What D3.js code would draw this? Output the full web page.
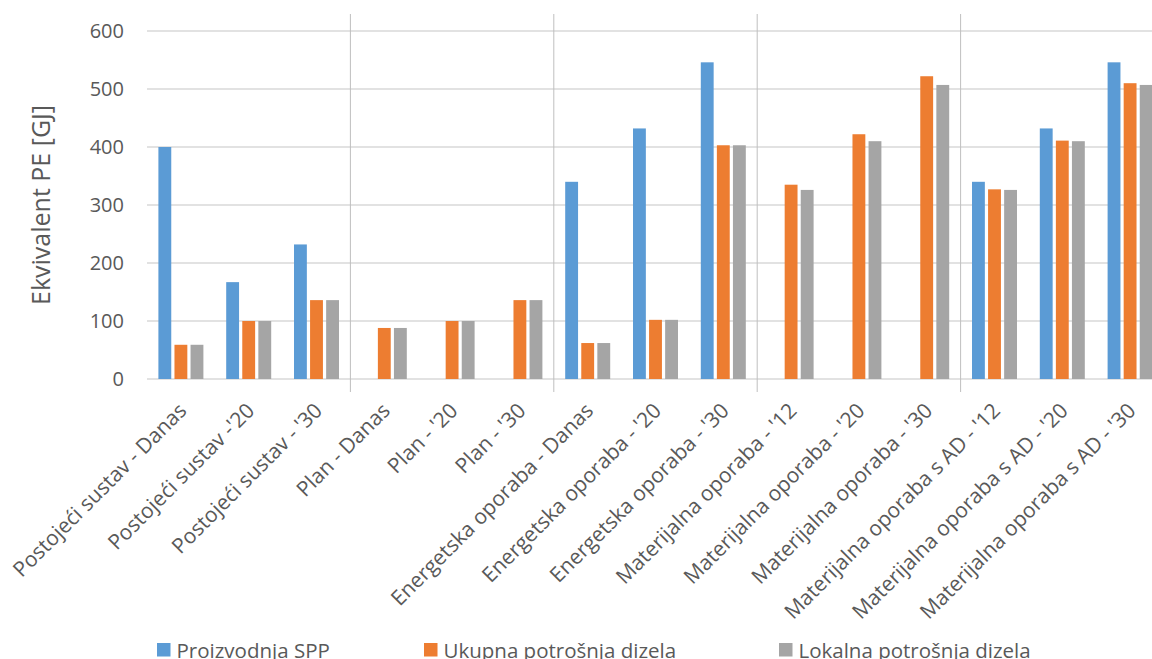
<!DOCTYPE html>
<html>
<head>
<meta charset="utf-8">
<script src="https://d3js.org/d3.v7.min.js"></script>
<style>
  body { margin: 0; background: #fff; }
  text { font-family: "Open Sans", "Noto Sans", sans-serif; fill: #595959; }
</style>
</head>
<body>
<script>
  var categories = [
    "Postojeći sustav - Danas", "Postojeći sustav -'20", "Postojeći sustav - '30",
    "Plan - Danas", "Plan - '20", "Plan - '30",
    "Energetska oporaba - Danas", "Energetska oporaba - '20", "Energetska oporaba - '30",
    "Materijalna oporaba - '12", "Materijalna oporaba - '20", "Materijalna oporaba - '30",
    "Materijalna oporaba s AD - '12", "Materijalna oporaba s AD - '20", "Materijalna oporaba s AD - '30"
  ];
  var seriesNames = ["Proizvodnja SPP", "Ukupna potrošnja dizela", "Lokalna potrošnja dizela"];
  var proizvodnja = [400, 167, 232, 0, 0, 0, 340, 432, 546, 0, 0, 0, 340, 432, 546];
  var ukupna      = [59, 100, 136, 88, 100, 136, 62, 102, 403, 335, 422, 522, 327, 411, 510];
  var lokalna     = [59, 100, 136, 88, 100, 136, 62, 102, 403, 326, 410, 507, 326, 410, 507];
  var yTicks = [0, 100, 200, 300, 400, 500, 600];
  var colors = ["#5b9bd5", "#ed7d31", "#a5a5a5"];

  var width = 1152, height = 659;
  var plotL = 147, plotR = 1164, plotT = 31, plotB = 379;

  var svg = d3.select("body").append("svg")
    .attr("width", width).attr("height", height);

  var x = d3.scaleBand().domain(categories).range([plotL, plotR]);
  var xs = d3.scaleBand().domain(seriesNames).range([0, 45]).paddingInner(0.2);
  var y = d3.scaleLinear().domain([0, 600]).range([plotB, plotT]);

  // gridlines
  svg.append("g").selectAll("line").data(yTicks).enter().append("line")
    .attr("x1", plotL).attr("x2", width)
    .attr("y1", function(d) { return y(d); }).attr("y2", function(d) { return y(d); })
    .attr("stroke", "#d9d9d9").attr("stroke-width", 1.5);

  // group separators
  var seps = categories.filter(function(d, i) { return i > 0 && i % 3 === 0; });
  svg.append("g").selectAll("line").data(seps).enter().append("line")
    .attr("x1", function(d) { return x(d); }).attr("x2", function(d) { return x(d); })
    .attr("y1", 14).attr("y2", 392)
    .attr("stroke", "#bfbfbf").attr("stroke-width", 1);

  // y tick labels
  svg.append("g").selectAll("text").data(yTicks).enter().append("text")
    .attr("x", 124).attr("y", function(d) { return y(d); })
    .attr("dy", "0.35em").attr("text-anchor", "end")
    .style("font-size", "20px")
    .text(function(d) { return d; });

  // y title
  svg.append("text")
    .attr("transform", "translate(50," + ((plotT + plotB) / 2) + ") rotate(-90)")
    .attr("text-anchor", "middle")
    .style("font-size", "25px")
    .text("Ekvivalent PE [GJ]");

  // bars
  [proizvodnja, ukupna, lokalna].forEach(function(vals, si) {
    var data = vals.map(function(v, i) { return { c: categories[i], v: v }; })
      .filter(function(d) { return d.v > 0; });
    svg.append("g").selectAll("rect").data(data).enter().append("rect")
      .attr("x", function(d) { return x(d.c) + x.bandwidth() / 2 - 22.5 + xs(seriesNames[si]); })
      .attr("width", xs.bandwidth())
      .attr("y", function(d) { return y(d.v); })
      .attr("height", function(d) { return y(0) - y(d.v); })
      .attr("fill", colors[si]);
  });

  // x labels
  svg.append("g").selectAll("text").data(categories).enter().append("text")
    .attr("transform", function(d) {
      return "translate(" + (x(d) + x.bandwidth() / 2 + 7) + ",412) rotate(-45)";
    })
    .attr("text-anchor", "end")
    .style("font-size", "21px")
    .text(function(d) { return d; });

  // legend
  var legX = [157, 424, 779];
  var leg = svg.append("g").selectAll("g").data(seriesNames).enter().append("g")
    .attr("transform", function(d, i) { return "translate(" + legX[i] + ",643)"; });
  leg.append("rect").attr("width", 13.5).attr("height", 13.5)
    .attr("fill", function(d, i) { return colors[i]; });
  leg.append("text").attr("x", 19.5).attr("y", 15)
    .style("font-size", "20.5px")
    .text(function(d) { return d; });
</script>
</body>
</html>
